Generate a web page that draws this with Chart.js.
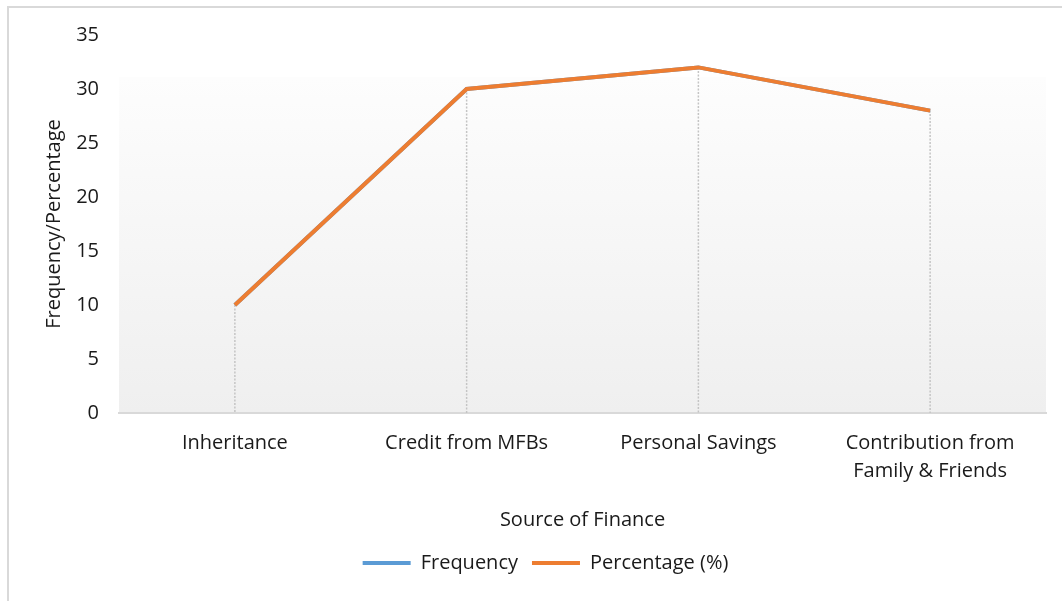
<!DOCTYPE html>
<html>
<head>
<meta charset="utf-8">
<script src="https://cdn.jsdelivr.net/npm/chart.js@4.4.1/dist/chart.umd.min.js"></script>
<style>
  html, body { margin: 0; padding: 0; background: #fff; }
  #wrap { width: 1062px; height: 601px; position: relative; }
</style>
</head>
<body>
<div id="wrap"><canvas id="canvas"></canvas></div>
<script>
const categories = ['Inheritance', 'Credit from MFBs', 'Personal Savings', ['Contribution from', 'Family & Friends']];
const frequency = [10, 30, 32, 28];
const percentage = [10, 30, 32, 28];
const yTicks = [0, 5, 10, 15, 20, 25, 30, 35];

const FONT = "'Open Sans', sans-serif";
const TXT = '#1a1a1a';

// frame, gradient plot fill and dotted drop lines like the Excel original
const excelLook = {
  id: 'excelLook',
  afterLayout(chart) {
    // legend in the original sits centred under the plot, not the canvas
    chart.legend.left += 18;
    chart.legend.right += 18;
  },
  beforeDraw(chart) {
    const { ctx, chartArea: a } = chart;
    ctx.save();
    ctx.strokeStyle = '#d9d9d9';
    ctx.lineWidth = 2;
    ctx.beginPath();
    ctx.moveTo(8, chart.height);
    ctx.lineTo(8, 7);
    ctx.lineTo(chart.width, 7);
    ctx.stroke();
    const top = a.top + 42;
    const g = ctx.createLinearGradient(0, top, 0, a.bottom);
    g.addColorStop(0, '#fdfdfd');
    g.addColorStop(1, '#efefef');
    ctx.fillStyle = g;
    ctx.fillRect(a.left, top, a.right - a.left, a.bottom - top);
    ctx.restore();
  },
  beforeDatasetsDraw(chart) {
    const { ctx, chartArea: a } = chart;
    const meta = chart.getDatasetMeta(0);
    ctx.save();
    ctx.strokeStyle = '#c4c4c4';
    ctx.lineWidth = 1.5;
    ctx.setLineDash([2, 1.5]);
    meta.data.forEach(p => {
      ctx.beginPath();
      ctx.moveTo(p.x, p.y);
      ctx.lineTo(p.x, a.bottom);
      ctx.stroke();
    });
    ctx.restore();
  }
};

new Chart(document.getElementById('canvas'), {
  type: 'line',
  data: {
    labels: categories,
    datasets: [
      { label: 'Frequency', data: frequency, borderColor: '#5b9bd5', backgroundColor: '#5b9bd5', borderWidth: 4, pointRadius: 0, tension: 0, order: 2 },
      { label: 'Percentage (%)', data: percentage, borderColor: '#ed7d31', backgroundColor: '#ed7d31', borderWidth: 4, pointRadius: 0, tension: 0, order: 1 }
    ]
  },
  options: {
    responsive: true,
    maintainAspectRatio: false,
    animation: false,
    layout: { padding: { left: 9, right: 16, top: 35, bottom: 18 } },
    plugins: {
      tooltip: { enabled: false },
      legend: {
        position: 'bottom',
        labels: {
          font: { family: FONT, size: 20 },
          color: TXT,
          boxWidth: 48,
          boxHeight: 4,
          padding: 14,
          generateLabels(chart) {
            return chart.data.datasets.map((d, i) => ({
              text: d.label, fillStyle: d.borderColor, strokeStyle: d.borderColor,
              lineWidth: 0, datasetIndex: i, fontColor: TXT
            }));
          }
        }
      }
    },
    scales: {
      x: {
        offset: true,
        grid: { display: false, drawTicks: false },
        border: { display: true, color: '#d9d9d9', width: 2 },
        ticks: { font: { family: FONT, size: 20, lineHeight: 1.4 }, color: TXT, padding: 16, maxRotation: 0, autoSkip: false },
        title: { display: true, text: 'Source of Finance', font: { family: FONT, size: 20 }, color: TXT, padding: { top: 24, bottom: 7 } },
        afterFit(s) { s.height = 126; }
      },
      y: {
        min: 0, max: 35,
        afterBuildTicks(s) { s.ticks = yTicks.map(v => ({ value: v })); },
        grid: { display: false, drawTicks: false },
        border: { display: false },
        ticks: { font: { family: FONT, size: 20 }, color: TXT, padding: 20 },
        title: { display: true, text: 'Frequency/Percentage', font: { family: FONT, size: 20 }, color: TXT, padding: { top: 33, bottom: 10 } },
        afterFit(s) { s.width = 110; }
      }
    }
  },
  plugins: [excelLook]
});
</script>
</body>
</html>
